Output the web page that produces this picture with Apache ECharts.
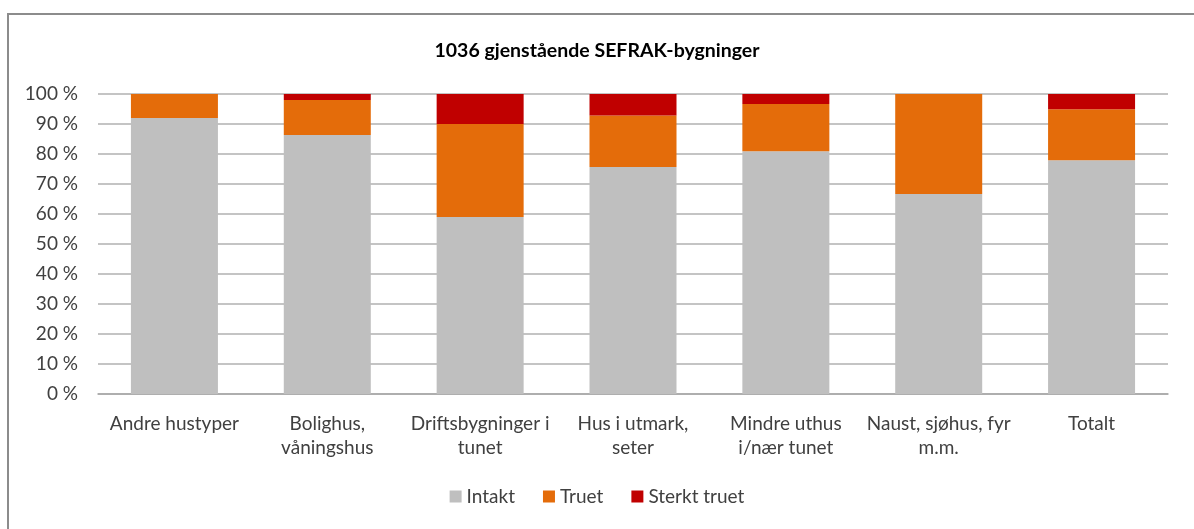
<!DOCTYPE html>
<html>
<head>
<meta charset="utf-8">
<script src="https://cdn.jsdelivr.net/npm/echarts@6/dist/echarts.min.js"></script>
<style>
  html, body { margin: 0; padding: 0; background: #fff; }
  #chart { position: absolute; left: 0; top: 0; width: 1194px; height: 529px; }
  #frame { position: absolute; left: 7px; top: 13px; width: 1200px; height: 530px;
           border: 2px solid #8c8c8c; pointer-events: none; }
</style>
</head>
<body>
<div id="chart"></div>
<div id="frame"></div>
<script>
// SEFRAK-bygninger, andel etter tilstand (%)
const categories = ['Andre hustyper', 'Bolighus,\nvåningshus', 'Driftsbygninger i\ntunet',
                    'Hus i utmark,\nseter', 'Mindre uthus\ni/nær tunet', 'Naust, sjøhus, fyr\nm.m.', 'Totalt'];
const intakt =      [92, 86.3, 59, 75.7, 80.9, 66.7, 77.9];
const truet =       [8, 11.7, 31, 17.1, 15.8, 33.3, 17];
const sterktTruet = [0, 2, 10, 7.2, 3.3, 0, 5.1];

const chart = echarts.init(document.getElementById('chart'));
const font = 'Lato, "Open Sans", sans-serif';

chart.setOption({
    animation: false,
    title: {
        text: '1036 gjenstående SEFRAK-bygninger',
        left: 'center',
        top: 36,
        textStyle: { fontFamily: font, fontSize: 19.5, fontWeight: 'bold', color: '#000' }
    },
    legend: {
        data: ['Intakt', 'Truet', 'Sterkt truet'],
        bottom: 18,
        left: 'center',
        itemWidth: 12,
        itemHeight: 12,
        itemGap: 28,
        icon: 'rect',
        textStyle: { fontFamily: font, fontSize: 19, color: '#404040' }
    },
    grid: {
        left: 98,
        right: 26,
        top: 94,
        bottom: 135
    },
    xAxis: {
        type: 'category',
        data: categories,
        axisTick: { show: false },
        axisLine: { lineStyle: { color: '#a6a6a6', width: 1.5 } },
        axisLabel: {
            fontFamily: font, fontSize: 19, color: '#404040',
            margin: 18, lineHeight: 24, interval: 0
        }
    },
    yAxis: {
        type: 'value',
        min: 0,
        max: 100,
        interval: 10,
        axisLabel: {
            fontFamily: font, fontSize: 19, color: '#404040', margin: 20,
            formatter: v => v + ' %'
        },
        splitLine: { lineStyle: { color: '#b0b0b0', width: 1.5 } }
    },
    series: [
        {
            name: 'Intakt',
            type: 'bar',
            stack: 'total',
            barWidth: 87,
            data: intakt,
            itemStyle: { color: '#bfbfbf' }
        },
        {
            name: 'Truet',
            type: 'bar',
            stack: 'total',
            barWidth: 87,
            data: truet,
            itemStyle: { color: '#e46c0a' }
        },
        {
            name: 'Sterkt truet',
            type: 'bar',
            stack: 'total',
            barWidth: 87,
            data: sterktTruet,
            itemStyle: { color: '#c00000' }
        }
    ]
});

window.addEventListener('resize', () => chart.resize());
</script>
</body>
</html>
